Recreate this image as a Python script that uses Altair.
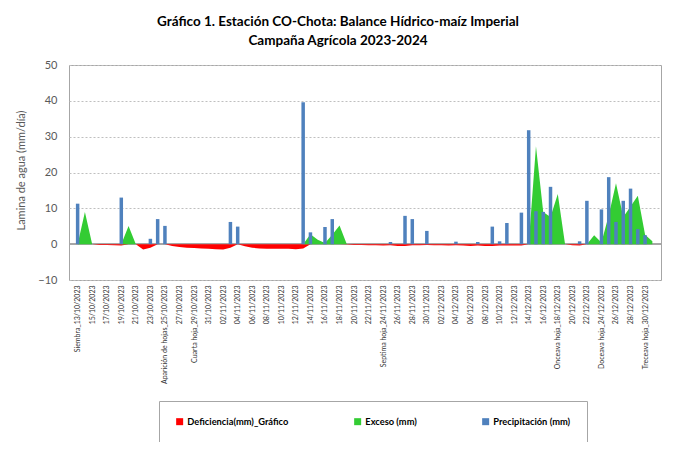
import json
import altair as alt
import pandas as pd

# ---------------- data ----------------
# day index 0 = 13/10/2023 ... 79 = 31/12/2023
precipitacion = [
    11.3, 0, 0, 0, 0, 0, 13.0, 0, 0, 0,          # 0-9
    1.5, 7.0, 5.1, 0, 0, 0, 0, 0, 0, 0,          # 10-19
    0, 6.2, 4.9, 0, 0, 0, 0, 0, 0, 0,            # 20-29
    0, 39.6, 3.3, 0, 4.8, 7.0, 0, 0, 0, 0,       # 30-39
    0, 0, 0, 0.6, 0, 7.9, 7.0, 0, 3.7, 0,        # 40-49
    0, 0, 0.7, 0, 0, 0.6, 0, 4.9, 0.8, 5.9,      # 50-59
    0, 8.8, 31.8, 9.2, 9.0, 16.0, 0, 0, 0, 0.8,  # 60-69
    12.1, 0, 9.7, 18.7, 6.2, 12.1, 15.5, 4.2, 2.5, 0,  # 70-79
]
exceso = [
    0, 9.0, 0, 0, 0, 0, 0, 5.1, 0, 0,
    0, 0, 0, 0, 0, 0, 0, 0, 0, 0,
    0, 0, 0, 0, 0, 0, 0, 0, 0, 0,
    0, 0, 2.8, 1.2, 0.3, 2.6, 5.2, 0, 0, 0,
    0, 0, 0, 0, 0, 0, 0, 0, 0, 0,
    0, 0, 0, 0, 0, 0, 0, 0, 0, 0,
    0, 0, 0, 27.3, 9.0, 7.6, 14.0, 0, 0, 0,
    0, 2.5, 0.5, 8.0, 17.0, 7.6, 10.5, 13.5, 2.6, 0.8,
]
deficiencia = [
    0, 0, 0, -0.2, -0.2, -0.3, -0.4, 0, 0, -1.5,
    -1.0, 0, 0, -0.5, -0.8, -1.0, -1.1, -1.2, -1.3, -1.4,
    -1.5, -1.0, 0, -0.6, -1.0, -1.2, -1.3, -1.3, -1.3, -1.3,
    -1.4, -1.2, 0, 0, 0, 0, 0, -0.1, -0.2, -0.2,
    -0.3, -0.3, -0.4, -0.3, -0.5, -0.5, -0.3, -0.3, -0.2, -0.3,
    -0.3, -0.4, -0.3, -0.4, -0.5, -0.4, -0.5, -0.5, -0.4, -0.4,
    -0.4, -0.4, 0, 0, 0, 0, 0, 0, -0.3, -0.4,
    0, 0, 0, 0, 0, 0, 0, 0, 0, 0,
]
etiquetas = [
    "Siembra_13/10/2023", "15/10/2023", "17/10/2023", "19/10/2023", "21/10/2023",
    "23/10/2023", "Aparición de hojas_25/10/2023", "27/10/2023", "Cuarta hoja_29/10/2023",
    "31/10/2023", "02/11/2023", "04/11/2023", "06/11/2023", "08/11/2023", "10/11/2023",
    "12/11/2023", "14/11/2023", "16/11/2023", "18/11/2023", "20/11/2023", "22/11/2023",
    "Septima hoja_24/11/2023", "26/11/2023", "28/11/2023", "30/11/2023", "02/12/2023",
    "04/12/2023", "06/12/2023", "08/12/2023", "10/12/2023", "12/12/2023", "14/12/2023",
    "16/12/2023", "Onceava hoja_18/12/2023", "20/12/2023", "22/12/2023",
    "Doceava hoja_24/12/2023", "26/12/2023", "28/12/2023", "Treceava hoja_30/12/2023",
]
series = ["Deficiencia(mm)_Gráfico", "Exceso (mm)", "Precipitación (mm)"]
colores = ["#FF0000", "#33CC33", "#4F81BD"]

df = pd.DataFrame({
    "dia": list(range(len(precipitacion))),
    "precip": precipitacion,
    "exceso": exceso,
    "deficiencia": deficiencia,
})

FONT = "Lato"
label_expr = json.dumps(etiquetas, ensure_ascii=False) + "[round(datum.value/2)]"

x_enc = alt.X(
    "dia:Q",
    scale=alt.Scale(domain=[-0.5, 79.5], nice=False, zero=False),
    axis=alt.Axis(
        values=list(range(0, 80, 2)), tickCount=80, labelExpr=label_expr, labelAngle=270,
        labelFontSize=7, labelColor="#333333", labelOverlap=False, labelFlush=False,
        labelBound=False, labelPadding=5, ticks=False, domain=False, grid=False,
        title=None, labelLimit=200,
    ),
)
y_scale = alt.Scale(domain=[-10, 50], nice=False)
y_axis = alt.Axis(
    values=list(range(-10, 51, 10)), tickCount=14, grid=True, gridColor="#BFBFBF",
    gridDash=[2, 2], ticks=False, domain=False, labelFontSize=11, labelColor="#595959",
    labelPadding=12, labelOverlap=False, labelFlush=False, labelBound=False,
    title="Lamina de agua (mm/día)", titleFontSize=11, titleFontWeight="normal",
    titleColor="#595959", titleAngle=-90, titleX=-43, titleY=105, titleAnchor="middle",
)
color_scale = alt.Scale(domain=series, range=colores)
legend = alt.Legend(
    title=None, orient="none", direction="horizontal", legendX=90, legendY=336,
    symbolType="square", symbolSize=49, symbolStrokeWidth=0, labelFontSize=9.3,
    labelFontWeight="bold", labelColor="#000000", columnPadding=64, labelOffset=3,
    padding=16, strokeColor="#A6A6A6", fillColor="white",
)
color_enc = alt.Color("serie:N", scale=color_scale, legend=legend)

base = alt.Chart(df)

zero = base.mark_rule(color="#A6A6A6", strokeWidth=1).encode(y=alt.datum(0))

def_area = base.transform_calculate(serie=f"'{series[0]}'").mark_area(
    interpolate="linear").encode(
    x=x_enc,
    y=alt.Y("deficiencia:Q", scale=y_scale, axis=y_axis),
    color=color_enc,
)
exc_area = base.transform_calculate(serie=f"'{series[1]}'").mark_area(
    interpolate="linear").encode(
    x=x_enc,
    y=alt.Y("exceso:Q", scale=y_scale, axis=y_axis),
    color=color_enc,
)
bars = base.transform_filter("datum.precip > 0").transform_calculate(
    serie=f"'{series[2]}'").mark_bar(size=3.5).encode(
    x=x_enc,
    y=alt.Y("precip:Q", scale=y_scale, axis=y_axis),
    color=color_enc,
)

chart = alt.layer(zero, def_area, exc_area, bars).properties(
    width=592, height=215,
    autosize=alt.AutoSizeParams(type="none"),
    padding={"left": 61, "top": 57, "right": 10, "bottom": 162},
    title=alt.TitleParams(
        ["Gráfico 1. Estación CO-Chota: Balance Hídrico-maíz Imperial",
         "Campaña Agrícola 2023-2024"],
        anchor="middle", fontSize=13.5, fontWeight="bold", color="#000000",
        lineHeight=19, offset=12, dx=-27, font=FONT,
    ),
).configure(font=FONT).configure_view(
    stroke="#A6A6A6", strokeWidth=1
).configure_axis(labelFont=FONT, titleFont=FONT).configure_legend(labelFont=FONT)

chart.save("out.html", embed_options={"renderer": "svg", "actions": False})
